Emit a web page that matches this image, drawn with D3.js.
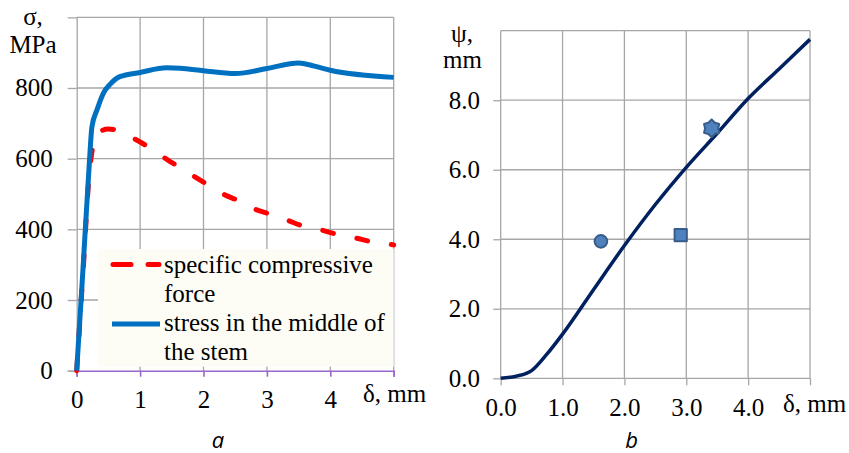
<!DOCTYPE html>
<html>
<head>
<meta charset="utf-8">
<script src="https://cdn.jsdelivr.net/npm/d3@7"></script>
<style>
  body { margin: 0; background: #fff; }
  svg { display: block; }
</style>
</head>
<body>
<div id="chart"></div>
<script>
// ---- chart a data: stress in the middle of the stem (blue) ----
var stressDelta = [0, 0.1, 0.2, 0.24, 0.32, 0.42, 0.53, 0.68, 1.0, 1.42, 1.63, 2.0, 2.5, 3.0, 3.5, 3.75, 4.0, 5.0];
var stressSigma = [0, 290, 590, 690, 738, 785, 811, 832, 844, 857, 856, 849, 841, 855, 871, 862, 850, 830];

// ---- chart a data: specific compressive force (red dashed) ----
var forceDelta = [0, 0.1, 0.2, 0.25, 0.32, 0.5, 0.6, 0.89, 1.14, 1.37, 1.59, 1.84, 2.05, 2.31, 2.55, 2.81, 3.05, 3.32, 3.57, 3.86, 4.1, 4.39, 4.65, 5.0];
var forceSigma = [0, 280, 560, 630, 670, 684, 682, 658, 632, 604, 579, 551, 528, 500, 481, 457, 443, 426, 409, 398, 386, 376, 365, 356];

var aTicksX = [0, 1, 2, 3, 4, 5];
var aTicksY = [0, 200, 400, 600, 800];
var legendLabels = [["specific compressive", "force"], ["stress in the middle of", "the stem"]];

// ---- chart b data ----
var psiDelta = [0, 0.25, 0.5, 0.75, 1.0, 1.5, 2.0, 2.5, 3.0, 3.5, 4.0, 4.5, 5.0];
var psiValue = [0, 0.06, 0.22, 0.7, 1.27, 2.55, 3.82, 5.0, 6.07, 7.05, 8.05, 8.9, 9.75];

var pointDelta = [1.62, 2.91, 3.41];
var pointPsi = [3.94, 4.12, 7.19];
var pointShape = ["circle", "square", "star"];

var bTicksX = [0, 1, 2, 3, 4, 5];
var bTicksY = [0, 2, 4, 6, 8];

var w = 849, h = 453;
var gridColor = "#a6a6a6";
var font = "'Liberation Serif', 'Times New Roman', serif";

var svg = d3.select("#chart").append("svg")
  .attr("width", w)
  .attr("height", h);

svg.append("rect").attr("width", w).attr("height", h).attr("fill", "#fff");

// ================= chart a =================
var xA = d3.scaleLinear().domain([0, 5]).range([76.7, 393.7]);
var yA = d3.scaleLinear().domain([0, 1000]).range([370.7, 17.3]);

var ga = svg.append("g");

// grid
ga.selectAll(".vgrid")
  .data(aTicksX.filter(function(d){ return d > 0; }))
  .enter().append("line")
  .attr("x1", function(d){ return xA(d); })
  .attr("x2", function(d){ return xA(d); })
  .attr("y1", yA(1000))
  .attr("y2", yA(0))
  .attr("stroke", gridColor)
  .attr("stroke-width", 1.3);

ga.selectAll(".hgrid")
  .data([200, 400, 600, 800, 1000])
  .enter().append("line")
  .attr("x1", xA(0))
  .attr("x2", xA(5))
  .attr("y1", function(d){ return yA(d); })
  .attr("y2", function(d){ return yA(d); })
  .attr("stroke", gridColor)
  .attr("stroke-width", 1.3);

// y axis
var yAxisA = ga.append("g")
  .attr("transform", "translate(" + xA(0) + ",0)")
  .call(d3.axisLeft(yA).tickValues(aTicksY).tickSize(9).tickPadding(15));
yAxisA.select(".domain").attr("stroke", gridColor).attr("stroke-width", 1.3);
yAxisA.selectAll(".tick line").attr("stroke", gridColor).attr("stroke-width", 1.3);
yAxisA.attr("font-size", 25).attr("font-family", font);
yAxisA.selectAll("text").attr("fill", "#000");

// x axis (purple)
var xAxisA = ga.append("g")
  .attr("transform", "translate(0," + yA(0) + ")")
  .call(d3.axisBottom(xA).tickValues(aTicksX).tickSize(6).tickPadding(13.5)
    .tickFormat(function(d){ return d < 5 ? d : ""; }));
xAxisA.select(".domain").attr("stroke", "#9966cc").attr("stroke-width", 1.6);
xAxisA.selectAll(".tick line").attr("stroke", "#9966cc").attr("stroke-width", 1.6);
xAxisA.attr("font-size", 25).attr("font-family", font);
xAxisA.selectAll("text").attr("fill", "#000");

// lines
var lineA = d3.line()
  .x(function(d){ return xA(d[0]); })
  .y(function(d){ return yA(d[1]); })
  .curve(d3.curveMonotoneX);

ga.append("path")
  .datum(d3.zip(forceDelta, forceSigma))
  .attr("d", lineA)
  .attr("fill", "none")
  .attr("stroke", "#ff0000")
  .attr("stroke-width", 5)
  .attr("stroke-linecap", "round")
  .attr("stroke-dasharray", "11,24");

ga.append("path")
  .datum(d3.zip(stressDelta, stressSigma))
  .attr("d", lineA)
  .attr("fill", "none")
  .attr("stroke", "#0070c0")
  .attr("stroke-width", 5)
  .attr("stroke-linejoin", "round");

// legend
var leg = ga.append("g");
leg.append("rect")
  .attr("x", 98).attr("y", 249)
  .attr("width", 295.7).attr("height", 117.7)
  .attr("fill", "#fdfdf6");

leg.append("line")
  .attr("x1", 113).attr("x2", 159).attr("y1", 264.5).attr("y2", 264.5)
  .attr("stroke", "#ff0000").attr("stroke-width", 5)
  .attr("stroke-linecap", "round").attr("stroke-dasharray", "18,17");
leg.append("line")
  .attr("x1", 112).attr("x2", 160).attr("y1", 324).attr("y2", 324)
  .attr("stroke", "#0070c0").attr("stroke-width", 5);

var legBase = [[273.3, 301.7], [331, 360]];
legendLabels.forEach(function(lines, i){
  lines.forEach(function(t, j){
    leg.append("text")
      .attr("x", 164).attr("y", legBase[i][j])
      .attr("font-family", font).attr("font-size", 25)
      .text(t);
  });
});

// axis titles
ga.append("text").attr("x", 33).attr("y", 25).attr("text-anchor", "middle")
  .attr("font-family", font).attr("font-size", 25).text("σ,");
ga.append("text").attr("x", 33).attr("y", 53.3).attr("text-anchor", "middle")
  .attr("font-family", font).attr("font-size", 25).text("MPa");
ga.append("text").attr("x", 363).attr("y", 401.7)
  .attr("font-family", font).attr("font-size", 25).text("δ, mm");
ga.append("text").attr("x", 218).attr("y", 448).attr("text-anchor", "middle")
  .attr("font-family", "'Open Sans', 'Noto Sans', sans-serif").attr("font-style", "italic")
  .attr("font-size", 22).text("a");

// ================= chart b =================
var xB = d3.scaleLinear().domain([0, 5]).range([500.7, 810]);
var yB = d3.scaleLinear().domain([0, 10]).range([378.3, 30.7]);

var gb = svg.append("g");

gb.selectAll(".vgrid")
  .data(bTicksX)
  .enter().append("line")
  .attr("x1", function(d){ return xB(d); })
  .attr("x2", function(d){ return xB(d); })
  .attr("y1", yB(10))
  .attr("y2", yB(0))
  .attr("stroke", gridColor)
  .attr("stroke-width", 1.3);

gb.selectAll(".hgrid")
  .data([0, 2, 4, 6, 8, 10])
  .enter().append("line")
  .attr("x1", xB(0))
  .attr("x2", xB(5))
  .attr("y1", function(d){ return yB(d); })
  .attr("y2", function(d){ return yB(d); })
  .attr("stroke", gridColor)
  .attr("stroke-width", 1.3);

var yAxisB = gb.append("g")
  .attr("transform", "translate(" + xB(0) + ",0)")
  .call(d3.axisLeft(yB).tickValues(bTicksY).tickSize(7.4).tickPadding(13.3).tickFormat(d3.format(".1f")));
yAxisB.select(".domain").remove();
yAxisB.selectAll(".tick line").attr("stroke", gridColor).attr("stroke-width", 1.3);
yAxisB.attr("font-size", 25).attr("font-family", font);
yAxisB.selectAll("text").attr("fill", "#000");

var xAxisB = gb.append("g")
  .attr("transform", "translate(0," + yB(0) + ")")
  .call(d3.axisBottom(xB).tickValues(bTicksX).tickSize(7).tickPadding(13)
    .tickFormat(function(d){ return d < 5 ? d3.format(".1f")(d) : ""; }));
xAxisB.select(".domain").remove();
xAxisB.selectAll(".tick line").attr("stroke", gridColor).attr("stroke-width", 1.3);
xAxisB.attr("font-size", 25).attr("font-family", font);
xAxisB.selectAll("text").attr("fill", "#000");

var lineB = d3.line()
  .x(function(d){ return xB(d[0]); })
  .y(function(d){ return yB(d[1]); })
  .curve(d3.curveMonotoneX);

gb.append("path")
  .datum(d3.zip(psiDelta, psiValue))
  .attr("d", lineB)
  .attr("fill", "none")
  .attr("stroke", "#002060")
  .attr("stroke-width", 3.5);

// six-pointed star symbol
var star6 = {
  draw: function(context, size){
    var r = Math.sqrt(size / 2.6), ri = r * 0.75;
    for (var i = 0; i < 12; i++) {
      var a = i * Math.PI / 6 - Math.PI / 2;
      var rr = i % 2 ? ri : r;
      if (i === 0) context.moveTo(rr * Math.cos(a), rr * Math.sin(a));
      else context.lineTo(rr * Math.cos(a), rr * Math.sin(a));
    }
    context.closePath();
  }
};
var shapes = {
  circle: d3.symbol().type(d3.symbolCircle).size(125),
  square: d3.symbol().type(d3.symbolSquare).size(150),
  star: d3.symbol().type(star6).size(200)
};

gb.selectAll(".pt")
  .data(d3.range(pointDelta.length))
  .enter().append("path")
  .attr("transform", function(i){ return "translate(" + xB(pointDelta[i]) + "," + yB(pointPsi[i]) + ")"; })
  .attr("d", function(i){ return shapes[pointShape[i]](); })
  .attr("fill", "#4f81bd")
  .attr("stroke", "#385d8a")
  .attr("stroke-width", 2)
  .attr("stroke-linejoin", "round");

gb.append("text").attr("x", 462).attr("y", 41.5).attr("text-anchor", "middle")
  .attr("font-family", font).attr("font-size", 25).text("ψ,");
gb.append("text").attr("x", 462.5).attr("y", 68.3).attr("text-anchor", "middle")
  .attr("font-family", font).attr("font-size", 25).text("mm");
gb.append("text").attr("x", 783).attr("y", 412)
  .attr("font-family", font).attr("font-size", 25).text("δ, mm");
gb.append("text").attr("x", 631.7).attr("y", 448).attr("text-anchor", "middle")
  .attr("font-family", "'Open Sans', 'Noto Sans', sans-serif").attr("font-style", "italic")
  .attr("font-size", 22).text("b");
</script>
</body>
</html>
